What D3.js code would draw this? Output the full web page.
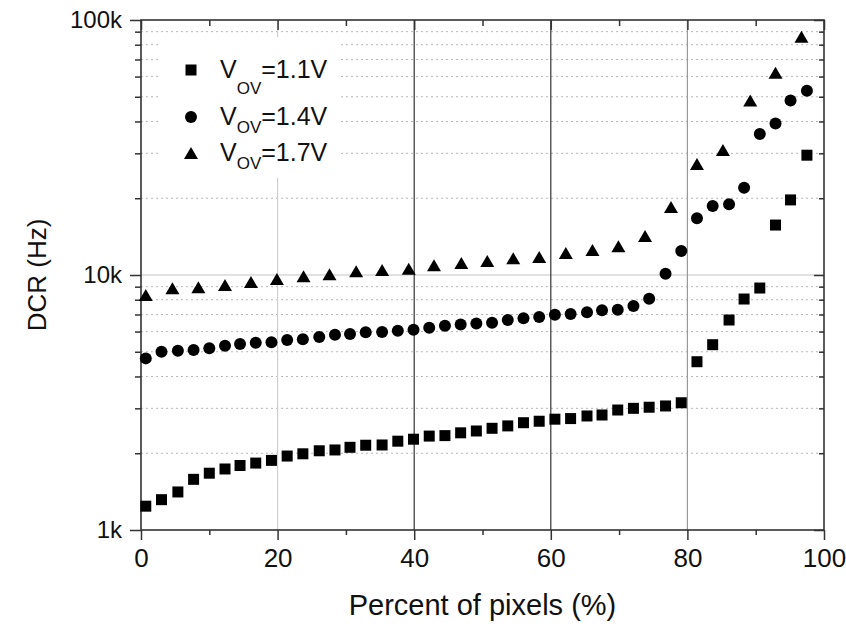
<!DOCTYPE html>
<html>
<head>
<meta charset="utf-8">
<script src="https://cdn.jsdelivr.net/npm/d3@7"></script>
<style>
  body { margin: 0; background: #fff; }
  svg { font-family: Arial, "Liberation Sans", sans-serif; }
</style>
</head>
<body>
<div id="chart"></div>
<script>
// Abscisses (%) des séries 1.1V et 1.4V
const pctA = [0.7, 3.0, 5.4, 7.7, 10.0, 12.3, 14.5, 16.8, 19.1, 21.4, 23.7, 26.1, 28.4, 30.6, 32.9, 35.3,
              37.6, 39.9, 42.2, 44.5, 46.8, 49.1, 51.4, 53.7, 56.0, 58.3, 60.6, 62.9, 65.3, 67.5, 69.8,
              72.1, 74.4, 76.8, 79.1, 81.4, 83.7, 86.1, 88.3, 90.6, 92.9, 95.1, 97.5];
// DCR (Hz) pour Vov = 1.1V
const dcr11 = [1240, 1315, 1410, 1580, 1670, 1735, 1790, 1830, 1875, 1950, 1990, 2045, 2060, 2110, 2150, 2155,
               2230, 2270, 2335, 2345, 2405, 2445, 2505, 2560, 2635, 2670, 2720, 2735, 2800, 2825, 2955,
               3000, 3030, 3065, 3155, 4570, 5330, 6660, 8050, 8890, 15700, 19700, 29500];
// DCR (Hz) pour Vov = 1.4V
const dcr14 = [4710, 5000, 5050, 5080, 5160, 5280, 5365, 5425, 5450, 5560, 5595, 5715, 5835, 5870, 5960, 5980,
               6050, 6105, 6215, 6330, 6400, 6455, 6500, 6660, 6765, 6845, 6990, 7035, 7140, 7275, 7310,
               7560, 8070, 10120, 12420, 16700, 18650, 18950, 22000, 35700, 39300, 48300, 52800];
// Abscisses (%) et DCR (Hz) pour Vov = 1.7V
const pctB = [0.7, 4.6, 8.4, 12.3, 16.1, 19.9, 23.8, 27.6, 31.5, 35.3, 39.2, 42.9, 46.9, 50.7, 54.5, 58.3,
              62.2, 66.1, 69.9, 73.8, 77.6, 81.4, 85.2, 89.2, 92.9, 96.7];
const dcr17 = [8350, 8870, 8950, 9135, 9390, 9645, 9880, 10060, 10340, 10460, 10585, 10910, 11150, 11350,
               11630, 11770, 12200, 12530, 12960, 14220, 18480, 27250, 30900, 48300, 62100, 86000];

const xTicks = [0, 20, 40, 60, 80, 100];
const xMinorTicks = [10, 30, 50, 70, 90];
const yTicks = [1000, 10000, 100000];
const yTickLabels = ["1k", "10k", "100k"];
const yMinorTicks = [2000, 3000, 4000, 5000, 6000, 7000, 8000, 9000,
                     20000, 30000, 40000, 50000, 60000, 70000, 80000, 90000];
const legendLabels = ["=1.1V", "=1.4V", "=1.7V"];

// Dimensions et marges
const W = 846, H = 626;
const margin = { top: 20, right: 22, bottom: 96, left: 141 },
      width = W - margin.left - margin.right,
      height = H - margin.top - margin.bottom;

const svg = d3.select("#chart").append("svg")
    .attr("width", W)
    .attr("height", H);

const g = svg.append("g")
    .attr("transform", `translate(${margin.left},${margin.top})`);

// Échelles
const x = d3.scaleLinear().domain([0, 100]).range([0, width]);
const y = d3.scaleLog().domain([1000, 100000]).range([height, 0]);

// Grille secondaire (pointillés)
g.append("g")
    .selectAll("line")
    .data(yMinorTicks)
    .enter().append("line")
    .attr("x1", 0).attr("x2", width)
    .attr("y1", d => y(d)).attr("y2", d => y(d))
    .attr("stroke", "#b8b8b8")
    .attr("stroke-width", 1)
    .attr("stroke-dasharray", "2,3");

// Grille principale
g.append("line")
    .attr("x1", 0).attr("x2", width)
    .attr("y1", y(10000)).attr("y2", y(10000))
    .attr("stroke", "#c4c4c4").attr("stroke-width", 1.2);

const vGridColors = { 20: "#cfcfcf", 40: "#333", 60: "#333", 80: "#999" };
g.append("g")
    .selectAll("line")
    .data([20, 40, 60, 80])
    .enter().append("line")
    .attr("x1", d => x(d)).attr("x2", d => x(d))
    .attr("y1", 0).attr("y2", height)
    .attr("stroke", d => vGridColors[d])
    .attr("stroke-width", 1.2);

// Fond blanc de la légende
svg.append("rect")
    .attr("x", 160).attr("y", 37)
    .attr("width", 178).attr("height", 141)
    .attr("fill", "#fff");

// Axes
const axisColor = "#333";
function styleAxis(sel) {
    sel.select(".domain").remove();
    sel.selectAll(".tick line").attr("stroke", axisColor).attr("stroke-width", 1.5);
    sel.selectAll(".tick text")
        .attr("fill", "#111")
        .attr("font-family", "Arial, 'Liberation Sans', sans-serif");
}

// bas
g.append("g")
    .attr("transform", `translate(0,${height})`)
    .call(d3.axisBottom(x).tickValues(xTicks).tickSize(10).tickPadding(9).tickFormat(d3.format("d")))
    .call(styleAxis)
    .selectAll("text").attr("font-size", 26);
g.append("g")
    .attr("transform", `translate(0,${height})`)
    .call(d3.axisBottom(x).tickValues(xMinorTicks).tickSize(5).tickFormat(""))
    .call(styleAxis);

// haut (vers l'intérieur)
g.append("g")
    .call(d3.axisBottom(x).tickValues(xTicks).tickSize(10).tickFormat(""))
    .call(styleAxis);
g.append("g")
    .call(d3.axisBottom(x).tickValues(xMinorTicks).tickSize(6).tickFormat(""))
    .call(styleAxis);

// gauche
g.append("g")
    .call(d3.axisLeft(y).tickValues(yTicks).tickSize(11).tickPadding(8)
        .tickFormat((d, i) => yTickLabels[i]))
    .call(styleAxis)
    .selectAll("text").attr("font-size", 24);
g.append("g")
    .call(d3.axisLeft(y).tickValues(yMinorTicks).tickSize(6).tickFormat(""))
    .call(styleAxis);

// droite (vers l'intérieur)
g.append("g")
    .attr("transform", `translate(${width},0)`)
    .call(d3.axisLeft(y).tickValues(yTicks).tickSize(10).tickFormat(""))
    .call(styleAxis);
g.append("g")
    .attr("transform", `translate(${width},0)`)
    .call(d3.axisLeft(y).tickValues(yMinorTicks).tickSize(5).tickFormat(""))
    .call(styleAxis);

// Cadre
g.append("rect")
    .attr("width", width).attr("height", height)
    .attr("fill", "none")
    .attr("stroke", axisColor)
    .attr("stroke-width", 1.6);

// Titres des axes
svg.append("text")
    .attr("x", margin.left + width / 2)
    .attr("y", 615)
    .attr("text-anchor", "middle")
    .attr("font-size", 29)
    .attr("fill", "#111")
    .text("Percent of pixels (%)");

svg.append("text")
    .attr("transform", `translate(46,${margin.top + height / 2}) rotate(-90)`)
    .attr("text-anchor", "middle")
    .attr("font-size", 26)
    .attr("fill", "#111")
    .text("DCR (Hz)");

// Marqueurs
const triangle = {
    draw(ctx, size) {
        const w = 14, h = 12;
        ctx.moveTo(0, -h / 2);
        ctx.lineTo(w / 2, h / 2);
        ctx.lineTo(-w / 2, h / 2);
        ctx.closePath();
    }
};
const squareSym = d3.symbol().type(d3.symbolSquare).size(121);
const circleSym = d3.symbol().type(d3.symbolCircle).size(Math.PI * 36);
const triSym = d3.symbol().type(triangle);

const series = [
    { xs: pctA, ys: dcr11, sym: squareSym },
    { xs: pctA, ys: dcr14, sym: circleSym },
    { xs: pctB, ys: dcr17, sym: triSym }
];

series.forEach(s => {
    g.append("g")
        .selectAll("path")
        .data(s.ys.map((v, i) => [s.xs[i], v]))
        .enter().append("path")
        .attr("d", s.sym)
        .attr("transform", d => `translate(${x(d[0])},${y(d[1])})`)
        .attr("fill", "#000");
});

// Légende
const legendY = [70, 117, 153];
const legendSubDy = [16, 8, 8];
const legendSyms = [squareSym, circleSym, triSym];

const legend = svg.selectAll(".legend")
    .data(legendLabels)
    .enter().append("g")
    .attr("class", "legend");

legend.append("path")
    .attr("d", (d, i) => legendSyms[i]())
    .attr("transform", (d, i) => `translate(191,${legendY[i]})`)
    .attr("fill", "#000");

const lt = legend.append("text")
    .attr("x", 220)
    .attr("y", (d, i) => legendY[i] + 8)
    .attr("font-size", 25)
    .attr("fill", "#111");
lt.append("tspan").text("V");
lt.append("tspan")
    .attr("font-size", 17)
    .attr("dy", (d, i) => legendSubDy[i])
    .text("OV");
lt.append("tspan")
    .attr("dy", (d, i) => -legendSubDy[i])
    .text(d => d);
</script>
</body>
</html>
